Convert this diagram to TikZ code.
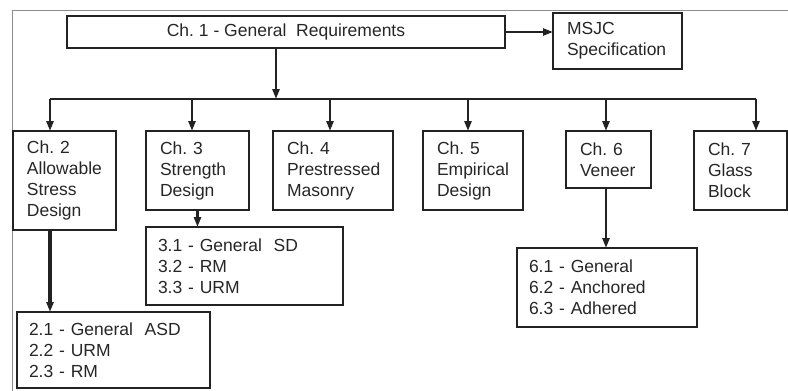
\documentclass[tikz,border=0pt]{standalone}
\usepackage{fontspec}
\setmainfont{Liberation Sans}
\frenchspacing
\usetikzlibrary{arrows.meta, positioning}
\definecolor{msink}{HTML}{262626}
\definecolor{msline}{HTML}{222222}
\definecolor{msframe}{HTML}{8C8C8C}

\begin{document}
\begin{tikzpicture}[
    x=1pt, y=-1pt,
    font=\fontsize{17.5pt}{21pt}\selectfont,
    text=msink,
    chap/.style={draw=msline, line width=1.8pt, anchor=north west, outer sep=0pt,
                 inner xsep=14pt, inner ysep=0pt, align=left},
    sub/.style={chap, inner xsep=12pt},
    arr/.style={-{Triangle[length=10pt, width=7pt]}, msline, line width=2.8pt},
    bus/.style={msline, line width=2pt},
  ]
    \useasboundingbox (0,0) rectangle (788,391);
    % page frame (only top and left edges show)
    \draw[msframe, line width=1pt] (12.5,391) -- (12.5,10) -- (788,10);

    \node[chap, minimum width=438pt, minimum height=32pt, align=center] (ch1) at (67,16)
      {Ch. 1 - General~ Requirements};
    \node[chap, text width=101pt, minimum height=56pt] (msjc) at (553,13)
      {MSJC\\Specification};

    \node[chap, text width=75pt, minimum height=99pt] (ch2) at (13,131)
      {Ch. 2\\Allowable\\Stress\\Design};
    \node[chap, text width=75pt, minimum height=79pt] (ch3) at (146,131)
      {Ch. 3\\Strength\\Design};
    \node[chap, text width=92pt, minimum height=79pt] (ch4) at (273,131)
      {Ch. 4\\Prestressed\\Masonry};
    \node[chap, text width=72pt, minimum height=79pt] (ch5) at (423,131)
      {Ch. 5\\Empirical\\Design};
    \node[chap, text width=57pt, minimum height=57pt] (ch6) at (566,131)
      {Ch. 6\\Veneer};
    \node[chap, text width=65pt, minimum height=79pt] (ch7) at (694,131)
      {Ch. 7\\Glass\\Block};

    \node[sub, text width=169pt, minimum height=76pt] (sub2) at (17,312)
      {2.1 - General~ ASD\\2.2 - URM\\2.3 - RM};
    \node[sub, text width=173pt, minimum height=78pt] (sub3) at (146,227)
      {3.1 - General~ SD\\3.2 - RM\\3.3 - URM};
    \node[sub, text width=156pt, minimum height=79pt] (sub6) at (517,248)
      {6.1 - General\\6.2 - Anchored\\6.3 - Adhered};

    % spec link and main trunk
    \draw[arr, line width=2.2pt] (ch1.east) -- (msjc.west |- ch1.east);
    \coordinate (hub) at (276,99);
    \draw[arr] (ch1.south -| hub) -- (hub);

    % bus with drops to each chapter
    \foreach \n/\x in {ch2/50, ch3/192, ch4/330, ch5/468, ch6/606, ch7/756}{
      \coordinate (t\n) at (\x,99);
      \draw[arr] (t\n) -- (t\n |- \n.north);
    }
    \draw[bus] (tch2) -- (tch7);

    % chapter contents
    \draw[arr, line width=3.2pt] (tch2 |- ch2.south) -- (tch2 |- sub2.north);
    \draw[arr] (ch3.south) -- (ch3.south |- sub3.north);
    \draw[arr] (ch6.south -| tch6) -- (tch6 |- sub6.north);
  \end{tikzpicture}
\end{document}
